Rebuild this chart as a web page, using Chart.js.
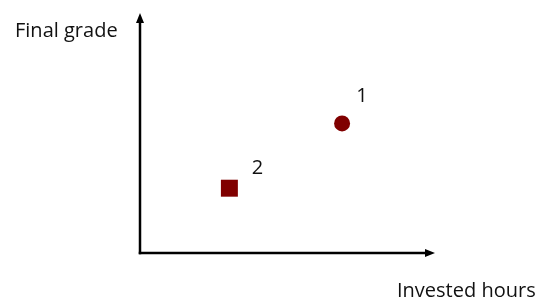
<!DOCTYPE html>
<html>
<head>
<meta charset="utf-8">
<script src="https://cdn.jsdelivr.net/npm/chart.js@4"></script>
<style>
html,body{margin:0;padding:0;background:#fff;}
#wrap{width:543px;height:301px;}
</style>
</head>
<body>
<div id="wrap"><canvas id="c" width="543" height="301"></canvas></div>
<script>
// Data
const pointLabels = ['1', '2'];
const hours = [6.85, 3.03];
const grades = [5.4, 2.7];
const pointShapes = ['circle', 'rect'];
const xTitle = 'Invested hours';
const yTitle = 'Final grade';

// label placement (style)
const labelDx = [20, 28];
const labelDy = [-21, -14];

const color = '#800000';

const axesPlugin = {
  id: 'axesArrows',
  afterDraw(chart) {
    const ctx = chart.ctx;
    const a = chart.chartArea;
    ctx.save();
    ctx.strokeStyle = '#000';
    ctx.fillStyle = '#000';
    ctx.lineWidth = 2.5;
    ctx.lineCap = 'butt';
    // y axis
    ctx.beginPath();
    ctx.moveTo(a.left, a.bottom + 1.25);
    ctx.lineTo(a.left, a.top + 8);
    ctx.stroke();
    // x axis
    ctx.beginPath();
    ctx.moveTo(a.left - 1.25, a.bottom);
    ctx.lineTo(a.right - 8, a.bottom);
    ctx.stroke();
    // arrowheads
    ctx.beginPath();
    ctx.moveTo(a.left, a.top);
    ctx.lineTo(a.left - 4, a.top + 10);
    ctx.lineTo(a.left + 4, a.top + 10);
    ctx.closePath();
    ctx.fill();
    ctx.beginPath();
    ctx.moveTo(a.right, a.bottom);
    ctx.lineTo(a.right - 10, a.bottom - 4);
    ctx.lineTo(a.right - 10, a.bottom + 4);
    ctx.closePath();
    ctx.fill();
    // titles
    ctx.font = '20px "Open Sans", sans-serif';
    ctx.textBaseline = 'alphabetic';
    ctx.textAlign = 'left';
    ctx.fillStyle = '#111';
    ctx.fillText(yTitle, 15, 37, 104);
    ctx.fillText(xTitle, 397, 297, 140);
    // point labels
    ctx.textAlign = 'center';
    const meta = chart.getDatasetMeta(0);
    meta.data.forEach((el, i) => {
      ctx.fillText(pointLabels[i], el.x + labelDx[i], el.y + labelDy[i]);
    });
    ctx.restore();
  }
};

new Chart(document.getElementById('c'), {
  type: 'scatter',
  data: {
    datasets: [{
      data: hours.map((h, i) => ({x: h, y: grades[i]})),
      pointStyle: pointShapes,
      pointRadius: [8, 12],
      pointHoverRadius: [8, 12],
      backgroundColor: color,
      borderColor: color,
      borderWidth: 0
    }]
  },
  options: {
    responsive: false,
    animation: false,
    events: [],
    layout: {padding: {left: 140, right: 108, top: 13, bottom: 48}},
    plugins: {legend: {display: false}, tooltip: {enabled: false}},
    scales: {
      x: {type: 'linear', min: 0, max: 10, display: false},
      y: {type: 'linear', min: 0, max: 10, display: false}
    }
  },
  plugins: [axesPlugin]
});
</script>
</body>
</html>
